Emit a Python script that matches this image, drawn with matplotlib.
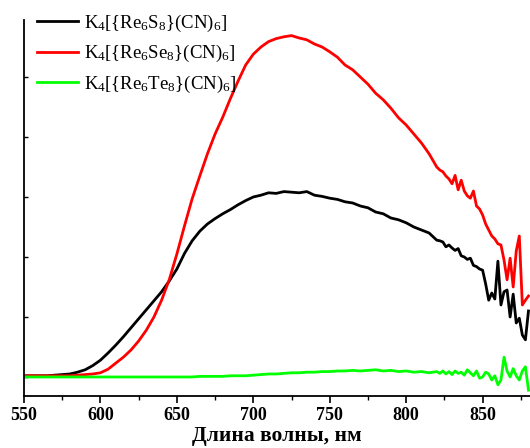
import numpy as np
import matplotlib
matplotlib.use('Agg')
import matplotlib.pyplot as plt

plt.rcParams['font.family'] = ['Liberation Serif', 'DejaVu Serif']
plt.rcParams['mathtext.fontset'] = 'custom'
plt.rcParams['mathtext.rm'] = 'Liberation Serif'
plt.rcParams['mathtext.it'] = 'Liberation Serif:italic'

# Длины волн (нм): шаг 5 до 820, потом шаг 2 до 880
dl_volny = list(range(550, 821, 5)) + list(range(822, 881, 2))

# K4[{Re6S8}(CN)6]
int_S = [0.02, 0.02, 0.02, 0.02, 0.03, 0.04, 0.05, 0.08, 0.12, 0.19,
         0.28, 0.40, 0.53, 0.67, 0.82, 0.97, 1.12, 1.27, 1.42, 1.60,
         1.80, 2.06, 2.27, 2.43, 2.55, 2.64, 2.72, 2.79, 2.87, 2.94,
         3.00, 3.03, 3.07, 3.06, 3.09, 3.08, 3.07, 3.09, 3.03, 3.01,
         2.98, 2.96, 2.92, 2.90, 2.85, 2.82, 2.75, 2.72, 2.65, 2.62,
         2.57, 2.50, 2.45, 2.40, 2.28,
         2.27, 2.25, 2.17, 2.20, 2.15, 2.11, 2.14, 2.02, 2.00, 1.96,
         1.98, 1.86, 1.84, 1.80, 1.78, 1.55, 1.28, 1.40, 1.30, 1.93,
         1.20, 1.42, 1.45, 1.00, 1.38, 0.90, 0.98, 0.70, 0.62, 1.10]

# K4[{Re6Se8}(CN)6]
int_Se = [0.02, 0.02, 0.02, 0.02, 0.02, 0.02, 0.02, 0.03, 0.04, 0.05,
          0.07, 0.13, 0.23, 0.33, 0.45, 0.60, 0.78, 1.00, 1.28, 1.62,
          2.05, 2.52, 2.97, 3.35, 3.72, 4.05, 4.33, 4.64, 4.93, 5.20,
          5.38, 5.50, 5.59, 5.64, 5.67, 5.69, 5.65, 5.62, 5.55, 5.50,
          5.42, 5.33, 5.20, 5.12, 5.00, 4.88, 4.73, 4.62, 4.48, 4.32,
          4.20, 4.05, 3.90, 3.72, 3.50,
          3.45, 3.42, 3.35, 3.30, 3.22, 3.36, 3.12, 3.28, 3.10, 3.02,
          2.98, 3.10, 2.85, 2.80, 2.70, 2.55, 2.45, 2.35, 2.30, 2.22,
          2.20, 1.95, 1.62, 1.98, 1.50, 2.10, 2.35, 1.20, 1.28, 1.35]

# K4[{Re6Te8}(CN)6]
int_Te = [0.00, 0.00, 0.00, 0.00, 0.00, 0.00, 0.00, 0.00, 0.00, 0.00,
          0.00, 0.00, 0.00, 0.00, 0.00, 0.00, 0.00, 0.00, 0.00, 0.00,
          0.00, 0.00, 0.00, 0.01, 0.01, 0.01, 0.01, 0.02, 0.02, 0.02,
          0.03, 0.04, 0.05, 0.05, 0.06, 0.07, 0.07, 0.08, 0.08, 0.09,
          0.09, 0.10, 0.10, 0.11, 0.10, 0.11, 0.12, 0.10, 0.11, 0.09,
          0.10, 0.08, 0.09, 0.07, 0.09,
          0.06, 0.10, 0.05, 0.09, 0.04, 0.10, 0.06, 0.08, 0.03, 0.12,
          0.07, 0.02, 0.10, -0.02, 0.00, 0.08, 0.05, -0.05, 0.02, -0.13,
          -0.05, 0.33, 0.10, 0.00, 0.14, 0.02, -0.05, 0.10, 0.17, -0.22]

nazvaniya = [r'K$_4$[{Re$_6$S$_8$}(CN)$_6$]',
             r'K$_4$[{Re$_6$Se$_8$}(CN)$_6$]',
             r'K$_4$[{Re$_6$Te$_8$}(CN)$_6$]']
cveta = ['#000000', '#ff0000', '#00ff00']

fig = plt.figure(figsize=(5.30, 4.48), dpi=100)
ax = fig.add_axes([24 / 530, 1 - 396 / 448, 1 - 24 / 530, (396 - 20) / 448])

for y, nm, c in zip([int_S, int_Se, int_Te], nazvaniya, cveta):
    ax.plot(dl_volny, y, color=c, linewidth=2, label=nm)

ax.set_xlim(550, 881)
ax.set_ylim(-0.317, 5.95)
ax.set_xticks(range(550, 851, 50))
ax.set_xticks(range(575, 881, 50), minor=True)
ax.set_yticks(range(0, 6))
ax.set_yticklabels([])
ax.tick_params(axis='x', which='major', direction='out', length=5, width=1.2,
               labelsize=13, pad=3)
ax.tick_params(axis='x', which='minor', direction='out', length=3, width=1)
ax.tick_params(axis='y', direction='in', length=3, width=1)
for t in ax.get_xticklabels():
    t.set_fontweight('bold')
ax.spines['top'].set_visible(False)
ax.spines['right'].set_visible(False)
ax.spines['left'].set_linewidth(1.3)
ax.spines['bottom'].set_linewidth(1.3)

ax.set_xlabel('Длина волны, нм', fontsize=15.5, fontweight='bold', labelpad=1)

ax.legend(loc='upper left', bbox_to_anchor=(33 / 530, 1 - 9 / 448),
          bbox_transform=fig.transFigure, frameon=False, fontsize=13.5,
          handlelength=2.2, handletextpad=0.3, borderaxespad=0, borderpad=0.2,
          labelspacing=0.5)

fig.savefig('out.png', dpi=100)
